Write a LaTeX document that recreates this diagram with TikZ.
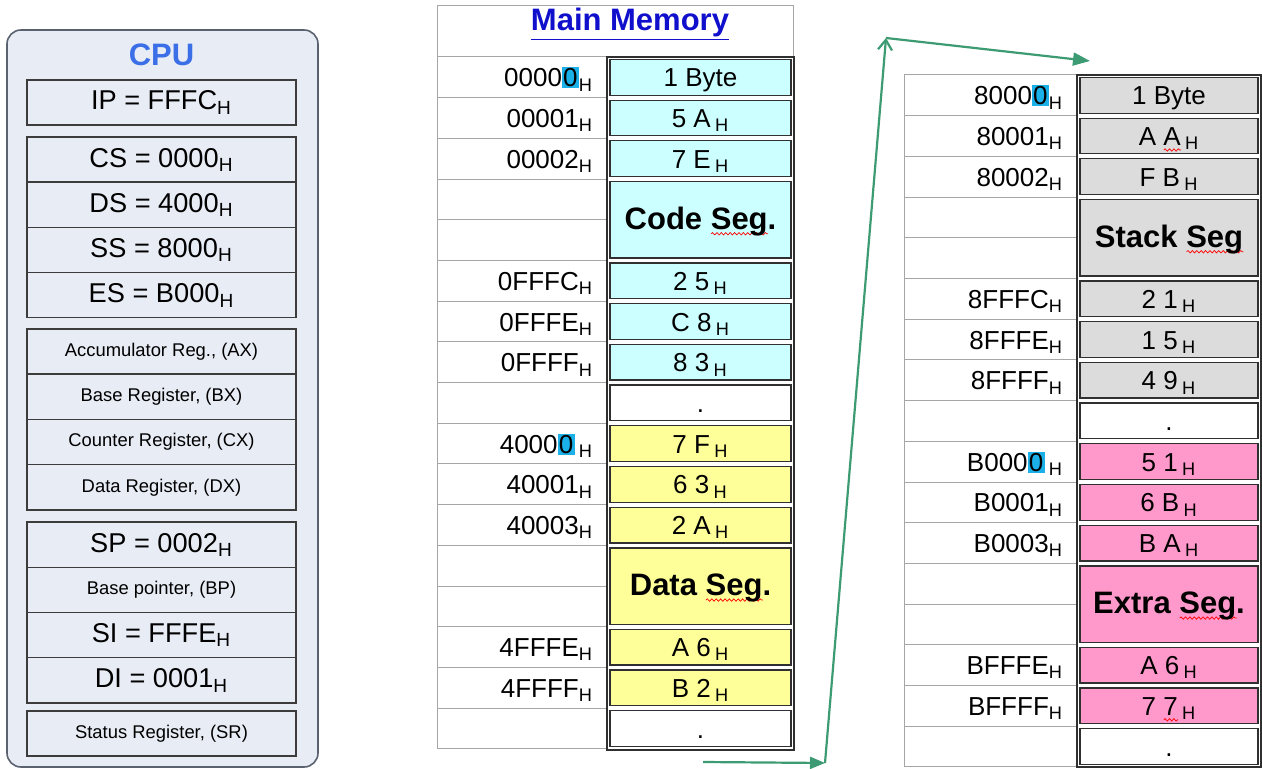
\documentclass[tikz,border=0pt]{standalone}
\usepackage{fontspec}
\setmainfont{Liberation Sans}
\usetikzlibrary{positioning,arrows.meta,decorations.pathmorphing}

\definecolor{cpufill}{HTML}{E8ECF5}
\definecolor{cpuedge}{HTML}{5A6270}
\definecolor{regedge}{HTML}{3C3C3C}
\definecolor{cputitle}{HTML}{3A6FE8}
\definecolor{mmtitle}{HTML}{1010CC}
\definecolor{gridgray}{HTML}{A6A6A6}
\definecolor{celledge}{HTML}{303030}
\definecolor{codecol}{HTML}{CCFFFF}
\definecolor{datacol}{HTML}{FFFF99}
\definecolor{stackcol}{HTML}{DCDCDC}
\definecolor{extracol}{HTML}{FF99CC}
\definecolor{hlblue}{HTML}{1CB0E8}
\definecolor{arrowgreen}{HTML}{3D9B73}

\newcommand\hh{\textsubscript{H}}
\newcommand\hlz[1]{{\setlength{\fboxsep}{0.6pt}\colorbox{hlblue}{#1}}}
\newcommand\seg[1]{{\bfseries\fontsize{15.5}{17}\selectfont #1}}
\newsavebox\wavebox
\newlength\wavelen
\newcommand\spellwave[1]{\sbox\wavebox{#1}\setlength\wavelen{\wd\wavebox}%
  \rlap{\raisebox{-3pt}{\tikz\draw[red, line width=0.35pt, decorate,
    decoration={snake, amplitude=0.6pt, segment length=2.2pt}] (0pt,0pt) -- (\wavelen,0pt);}}%
  \usebox\wavebox}

\tikzset{
  reg/.style={draw=regedge, line width=0.7pt, fill=cpufill, minimum width=134.5pt,
    minimum height=22.6pt, inner sep=0pt, outer sep=0pt, text height=10pt, text depth=2.5pt,
    font=\fontsize{13.6}{15}\selectfont},
  smallreg/.style={reg, text height=7pt, text depth=2pt, font=\fontsize{9.2}{10}\selectfont},
  addr/.style={draw=gridgray, line width=0.5pt, minimum height=20.35pt, inner xsep=7pt,
    inner ysep=0pt, align=right, text height=11.5pt, text depth=2pt, font=\fontsize{13}{15}\selectfont},
  cell/.style={draw=celledge, line width=0.6pt, inner sep=0pt, text height=11.5pt, text depth=2pt,
    font=\fontsize{13}{15}\selectfont},
  frame/.style={draw=celledge, line width=0.9pt},
  jump/.style={draw=arrowgreen, line width=1.1pt},
}

\begin{document}
\begin{tikzpicture}[x=0.5pt, y=-0.5pt]
    \useasboundingbox (0,0) rectangle (1262,769);

    % CPU panel
    \draw[draw=cpuedge, fill=cpufill, line width=0.8pt, rounded corners=7pt] (7,30) rectangle (318,767);
    \node[font=\bfseries\fontsize{15.5}{17}\selectfont, text=cputitle] (cpu) at (161.5,55) {CPU};

    \node[reg] (ip) at (161.5,102.5) {IP = FFFC\hh};

    \node[reg] (cs) at (161.5,159.6) {CS = 0000\hh};
    \node[reg, below=0pt of cs] (ds) {DS = 4000\hh};
    \node[reg, below=0pt of ds] (ss) {SS = 8000\hh};
    \node[reg, below=0pt of ss] (es) {ES = B000\hh};

    \node[smallreg] (ax) at (161.5,351.6) {Accumulator Reg., (AX)};
    \node[smallreg, below=0pt of ax] (bx) {Base Register, (BX)};
    \node[smallreg, below=0pt of bx] (cx) {Counter Register, (CX)};
    \node[smallreg, below=0pt of cx] (dx) {Data Register, (DX)};

    \node[reg] (sp) at (161.5,544.6) {SP = 0002\hh};
    \node[smallreg, below=0pt of sp] (bp) {Base pointer, (BP)};
    \node[reg, below=0pt of bp] (si) {SI = FFFE\hh};
    \node[reg, below=0pt of si] (di) {DI = 0001\hh};

    \node[smallreg] (sr) at (161.5,733.5) {Status Register, (SR)};

    % Main memory, first part
    \node[draw=gridgray, line width=0.5pt, minimum width=178pt, minimum height=25.5pt, inner sep=0pt] (mmhead) at (615,31.5) {};
    \node[font=\bfseries\fontsize{15.5}{17}\selectfont, text=mmtitle] (mmtitle) at (630,24) {\underline{Main Memory}};

    \foreach \r/\ad in {0/{0000\hlz{0}\hh}, 1/{00001\hh}, 2/{00002\hh}, 3/{}, 4/{},
        5/{0FFFC\hh}, 6/{0FFFE\hh}, 7/{0FFFF\hh}, 8/{}, 9/{4000\hlz{0}\,\hh},
        10/{40001\hh}, 11/{40003\hh}, 12/{}, 13/{}, 14/{4FFFE\hh}, 15/{4FFFF\hh}, 16/{}} {
        \node[addr, text width=71pt] (ma\r) at (522,{57+40.7*(\r+0.5)}) {\ad};
    }

    \foreach \r/\n/\f/\va in {0/1/codecol/{1 Byte}, 1/1/codecol/{5 A\,\hh}, 2/1/codecol/{7 E\,\hh},
        3/2/codecol/{\seg{Code \spellwave{Seg}.}}, 5/1/codecol/{2 5\,\hh}, 6/1/codecol/{C 8\,\hh},
        7/1/codecol/{8 3\,\hh}, 8/1/white/{.}, 9/1/datacol/{7 F\,\hh}, 10/1/datacol/{6 3\,\hh},
        11/1/datacol/{2 A\,\hh}, 12/2/datacol/{\seg{Data \spellwave{Seg}.}},
        14/1/datacol/{A 6\,\hh}, 15/1/datacol/{B 2\,\hh}, 16/1/white/{.}} {
        \node[cell, fill=\f, minimum width=90.5pt, minimum height={\n*20.35pt-2.5pt}] (mv\r) at (700.5,{57+40.7*(\r+\n/2)}) {\va};
    }
    \draw[frame] (607,57) rectangle (794,750);

    % Main memory, second part
    \foreach \r/\ad in {0/{8000\hlz{0}\hh}, 1/{80001\hh}, 2/{80002\hh}, 3/{}, 4/{},
        5/{8FFFC\hh}, 6/{8FFFE\hh}, 7/{8FFFF\hh}, 8/{}, 9/{B000\hlz{0}\,\hh},
        10/{B0001\hh}, 11/{B0003\hh}, 12/{}, 13/{}, 14/{BFFFE\hh}, 15/{BFFFF\hh}, 16/{}} {
        \node[addr, text width=72.5pt] (sa\r) at (990.5,{75+40.7*(\r+0.5)}) {\ad};
    }

    \foreach \r/\n/\f/\va in {0/1/stackcol/{1 Byte}, 1/1/stackcol/{A \spellwave{A}\,\hh}, 2/1/stackcol/{F B\,\hh},
        3/2/stackcol/{\seg{Stack \spellwave{Seg}}}, 5/1/stackcol/{2 1\,\hh}, 6/1/stackcol/{1 5\,\hh},
        7/1/stackcol/{4 9\,\hh}, 8/1/white/{.}, 9/1/extracol/{5 1\,\hh}, 10/1/extracol/{6 B\,\hh},
        11/1/extracol/{B A\,\hh}, 12/2/extracol/{\seg{Extra \spellwave{Seg}.}},
        14/1/extracol/{A 6\,\hh}, 15/1/extracol/{7 \spellwave{7}\,\hh}, 16/1/white/{.}} {
        \node[cell, fill=\f, minimum width=89pt, minimum height={\n*20.35pt-2.5pt}] (sv\r) at (1169,{75+40.7*(\r+\n/2)}) {\va};
    }
    \draw[frame] (1077,75) rectangle (1261,767);

    % Jump from the first part to the second
    \coordinate (jstart) at (703,762);
    \coordinate (jlow) at (825,763);
    \coordinate (jhigh) at (886,38);
    \coordinate (jend) at (1090,61);
    \draw[jump, -{Triangle[length=7.5pt,width=6pt]}] (jstart) -- (jlow);
    \draw[jump, -{Straight Barb[length=5pt,width=7pt]}] (jlow) -- (jhigh);
    \draw[jump, -{Triangle[length=8.5pt,width=6.5pt]}] (jhigh) -- (jend);
\end{tikzpicture}
\end{document}
